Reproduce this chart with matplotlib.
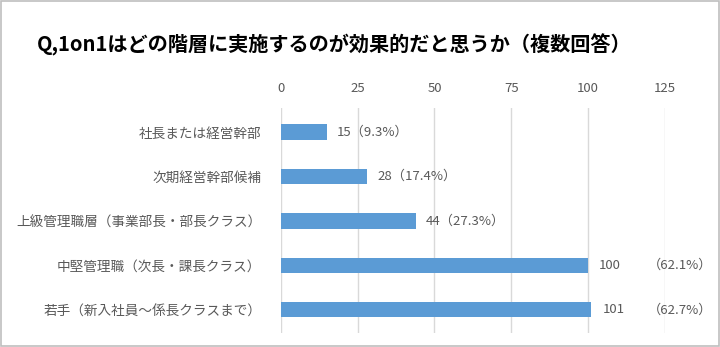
import matplotlib.pyplot as plt
from matplotlib.patches import Rectangle

plt.rcParams['font.family'] = ['Noto Sans CJK JP', 'DejaVu Sans']

categories = ['社長または経営幹部', '次期経営幹部候補', '上級管理職層（事業部長・部長クラス）',
              '中堅管理職（次長・課長クラス）', '若手（新入社員～係長クラスまで）']
values = [15, 28, 44, 100, 101]
percents = ['9.3%', '17.4%', '27.3%', '62.1%', '62.7%']
ticks = [0, 25, 50, 75, 100, 125]

fig = plt.figure(figsize=(7.2, 3.47), dpi=100)
ax = fig.add_axes([0.390, 0.0403, 0.5336, 0.6485])

bar_color = '#5B9BD5'
text_color = '#595959'

y = list(range(len(categories)))
bars = ax.barh(y, values, height=0.34, color=bar_color, zorder=3)

# value labels; the two long bars get the percentage pushed to the right
for i, (v, p) in enumerate(zip(values, percents)):
    if v < 60:
        ax.text(v + 3.3, i, f'{v}（{p}）', va='center', ha='left',
                fontsize=9.5, color=text_color)
    else:
        ax.text(v + 3.6, i, str(v), va='center', ha='left',
                fontsize=9.5, color=text_color)
        ax.text(119.5, i, f'（{p}）', va='center', ha='left',
                fontsize=9.5, color=text_color)

ax.set_xlim(0, 125)
ax.set_ylim(4.52, -0.54)
ax.set_xticks(ticks)
ax.set_yticks(y)
ax.set_yticklabels(categories, fontsize=9.8, color=text_color)
ax.xaxis.tick_top()
ax.tick_params(axis='x', length=0, pad=9, labelsize=9.5, labelcolor=text_color)
ax.tick_params(axis='y', length=0, pad=14)
for s in ax.spines.values():
    s.set_visible(False)
ax.grid(axis='x', color='#D9D9D9', linewidth=1, zorder=0)

fig.text(0.051, 0.87, 'Q,1on1はどの階層に実施するのが効果的だと思うか（複数回答）',
         fontsize=14.5, fontweight='bold', color='black', va='center', ha='left')

# light gray frame round the picture
fig.patches.append(Rectangle((0.001, 0.003), 0.997, 0.994, transform=fig.transFigure,
                             fill=False, edgecolor='#BFBFBF', linewidth=1.2))

fig.savefig('out.png', dpi=100)
